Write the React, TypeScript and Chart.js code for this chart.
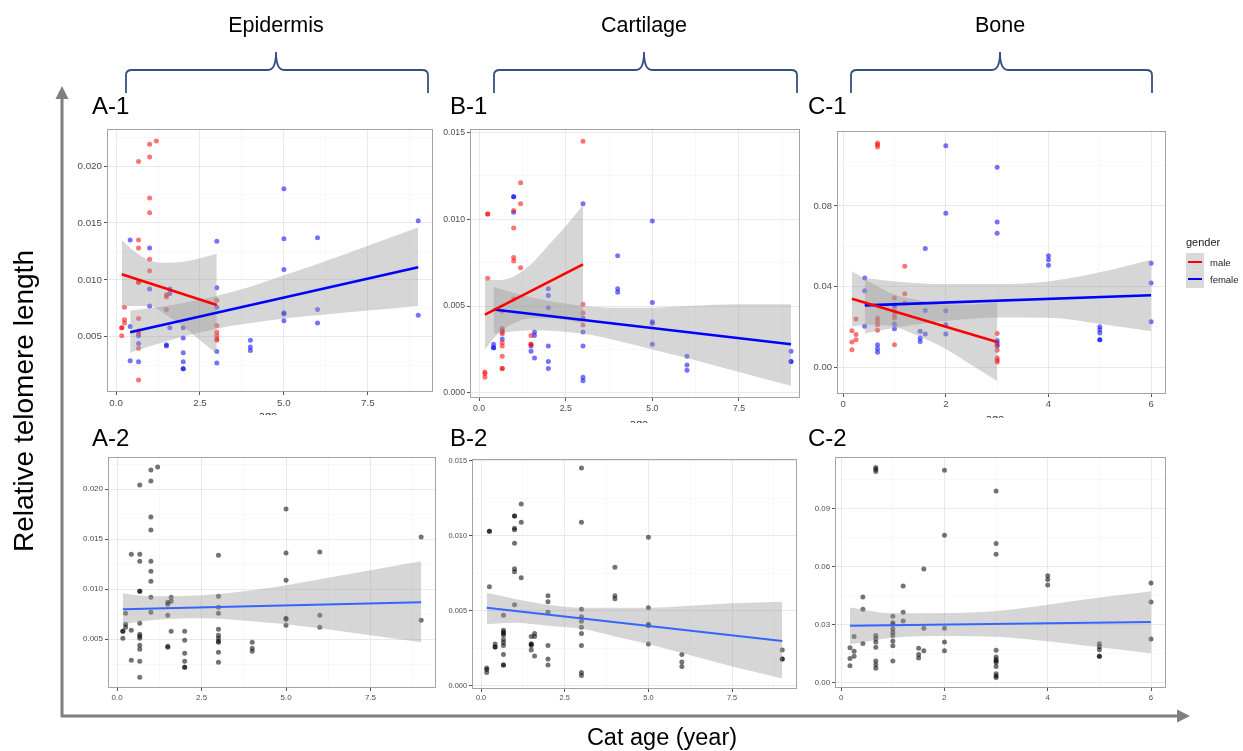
import React, { useEffect, useRef } from "react";
import { Chart, registerables } from "chart.js";
Chart.register(...registerables);

type Pt = [number, number];

// ================= DATA (age in years, relative telomere length) =================
// Epidermis
const epidermisMale: Pt[] = [
  [0.17, 0.0058], [0.17, 0.0058], [0.17, 0.0051], [0.25, 0.0076], [0.25, 0.0065], [0.25, 0.0062],
  [0.67, 0.0204], [0.67, 0.0135], [0.67, 0.0128], [0.67, 0.0098], [0.67, 0.0098], [0.67, 0.0066],
  [0.67, 0.0055], [0.67, 0.0053], [0.67, 0.004], [0.67, 0.0012],
  [1, 0.0219], [1, 0.0208], [1, 0.0172], [1, 0.0159], [1, 0.0118], [1, 0.0108],
  [1.2, 0.0222], [1.5, 0.0087], [1.5, 0.0085], [1.5, 0.0074],
  [3, 0.0082], [3, 0.006], [3, 0.0054], [3, 0.0051], [3, 0.0048], [3, 0.0047],
];
const epidermisFemale: Pt[] = [
  [0.42, 0.0135], [0.42, 0.0059], [0.42, 0.0029], [0.67, 0.0051], [0.67, 0.0044], [0.67, 0.0028],
  [1, 0.0128], [1, 0.0092], [1, 0.0077], [1.5, 0.0043], [1.5, 0.0042],
  [1.6, 0.0092], [1.6, 0.0088], [1.6, 0.0058],
  [2, 0.0058], [2, 0.0049], [2, 0.0036], [2, 0.0028], [2, 0.0022], [2, 0.0022],
  [3, 0.0134], [3, 0.0093], [3, 0.0076], [3, 0.0037], [3, 0.0027],
  [4, 0.0047], [4, 0.0041], [4, 0.0038],
  [5, 0.018], [5, 0.0136], [5, 0.0109], [5, 0.0071], [5, 0.007], [5, 0.0064],
  [6, 0.0137], [6, 0.0074], [6, 0.0062], [9, 0.0152], [9, 0.0069],
];
// Cartilage
const cartilageMale: Pt[] = [
  [0.17, 0.0012], [0.17, 0.0011], [0.17, 0.0009], [0.25, 0.0103], [0.25, 0.0103], [0.25, 0.0066],
  [0.67, 0.0047], [0.67, 0.0037], [0.67, 0.0035], [0.67, 0.0034], [0.67, 0.0029], [0.67, 0.0027],
  [0.67, 0.0021], [0.67, 0.0014], [0.67, 0.0014],
  [1, 0.0105], [1, 0.0095], [1, 0.0078], [1, 0.0076], [1, 0.0054],
  [1.2, 0.0121], [1.2, 0.0109], [1.2, 0.0072],
  [1.5, 0.0033], [1.5, 0.0028], [1.5, 0.0028],
  [3, 0.0145], [3, 0.0051], [3, 0.0046], [3, 0.0039],
];
const cartilageFemale: Pt[] = [
  [0.42, 0.0028], [0.42, 0.0026], [0.42, 0.0026], [0.67, 0.0036], [0.67, 0.0031],
  [1, 0.0113], [1, 0.0113], [1, 0.0104], [1.5, 0.0027], [1.5, 0.0024],
  [1.6, 0.0035], [1.6, 0.0033], [1.6, 0.002],
  [2, 0.006], [2, 0.0056], [2, 0.0049], [2, 0.0027], [2, 0.0018], [2, 0.0014],
  [3, 0.0109], [3, 0.0043], [3, 0.0035], [3, 0.0027], [3, 0.0009], [3, 0.0007],
  [4, 0.0079], [4, 0.006], [4, 0.0058],
  [5, 0.0099], [5, 0.0052], [5, 0.0041], [5, 0.004], [5, 0.0028],
  [6, 0.0021], [6, 0.0016], [6, 0.0013], [9, 0.0024], [9, 0.0018], [9, 0.0018],
];
// Bone
const boneMale: Pt[] = [
  [0.17, 0.018], [0.17, 0.0124], [0.17, 0.0086], [0.25, 0.0238], [0.25, 0.0161], [0.25, 0.0136],
  [0.67, 0.1113], [0.67, 0.1104], [0.67, 0.1093], [0.67, 0.0243], [0.67, 0.0227], [0.67, 0.021], [0.67, 0.0182],
  [1, 0.0343], [1, 0.0278], [1, 0.026], [1, 0.0243], [1, 0.0111],
  [1.2, 0.05], [1.2, 0.0364], [1.2, 0.0318],
  [3, 0.0166], [3, 0.0111], [3, 0.0083], [3, 0.0045], [3, 0.0033], [3, 0.0025],
];
const boneFemale: Pt[] = [
  [0.42, 0.0442], [0.42, 0.0379], [0.42, 0.0202], [0.67, 0.0111], [0.67, 0.0091], [0.67, 0.0073],
  [1, 0.0309], [1, 0.0301], [1, 0.0214], [1, 0.019],
  [1.5, 0.0177], [1.5, 0.0144], [1.5, 0.0127], [1.6, 0.0588], [1.6, 0.0281], [1.6, 0.0164],
  [2, 0.1099], [2, 0.0763], [2, 0.028], [2, 0.021], [2, 0.0164],
  [3, 0.0992], [3, 0.072], [3, 0.0664], [3, 0.0132], [3, 0.0119], [3, 0.0103],
  [4, 0.0553], [4, 0.0533], [4, 0.0505],
  [5, 0.02], [5, 0.0185], [5, 0.0169], [5, 0.0136], [5, 0.0136],
  [6, 0.0515], [6, 0.0417], [6, 0.0225],
];

// ---- fitted lines (end points) and confidence bands ----
const epiMaleFitAge = [0.17, 3];
const epiMaleFit = [0.0105, 0.0078];
const epiMaleBandAge = [0.17, 0.5, 1, 1.5, 2, 2.5, 3];
const epiMaleHi = [0.0135, 0.0126, 0.0117, 0.0115, 0.0116, 0.0119, 0.0123];
const epiMaleLo = [0.0076, 0.0077, 0.0077, 0.0069, 0.0059, 0.0047, 0.0035];
const epiFemaleFitAge = [0.42, 9];
const epiFemaleFit = [0.0054, 0.0111];
const epiFemaleBandAge = [0.42, 1.5, 3, 4, 5, 6, 7.5, 9];
const epiFemaleHi = [0.0073, 0.0077, 0.0086, 0.0094, 0.0104, 0.0114, 0.013, 0.0146];
const epiFemaleLo = [0.0036, 0.0046, 0.0057, 0.0062, 0.0066, 0.0069, 0.0073, 0.0077];
const epiAllFitAge = [0.17, 9];
const epiAllFit = [0.008, 0.0087];
const epiAllBandAge = [0.17, 1, 2.5, 4, 5, 6, 7.5, 9];
const epiAllHi = [0.0096, 0.0093, 0.0094, 0.0099, 0.0104, 0.011, 0.0119, 0.0128];
const epiAllLo = [0.0065, 0.0069, 0.0071, 0.0068, 0.0065, 0.0061, 0.0054, 0.0047];

const carMaleFitAge = [0.17, 3];
const carMaleFit = [0.0045, 0.0074];
const carMaleBandAge = [0.17, 0.6, 1, 1.5, 2, 2.5, 3];
const carMaleHi = [0.0065, 0.0065, 0.0067, 0.0074, 0.0085, 0.0096, 0.0108];
const carMaleLo = [0.0025, 0.0035, 0.004, 0.0043, 0.0043, 0.0042, 0.004];
const carFemaleFitAge = [0.42, 9];
const carFemaleFit = [0.0048, 0.0028];
const carFemaleBandAge = [0.42, 1.5, 3, 4, 5, 6, 7.5, 9];
const carFemaleHi = [0.0061, 0.0055, 0.005, 0.0049, 0.0049, 0.005, 0.0051, 0.0051];
const carFemaleLo = [0.0034, 0.0036, 0.0034, 0.003, 0.0025, 0.002, 0.0012, 0.0004];
const carAllFitAge = [0.17, 9];
const carAllFit = [0.0052, 0.003];
const carAllBandAge = [0.17, 1, 2, 3, 4, 5, 6, 7.5, 9];
const carAllHi = [0.0062, 0.0058, 0.0054, 0.0052, 0.0052, 0.0052, 0.0053, 0.0055, 0.0056];
const carAllLo = [0.0041, 0.0042, 0.004, 0.0038, 0.0033, 0.0028, 0.0022, 0.0013, 0.0005];

const boneMaleFitAge = [0.17, 3];
const boneMaleFit = [0.0339, 0.0124];
const boneMaleBandAge = [0.17, 0.6, 1, 1.5, 2, 2.5, 3];
const boneMaleHi = [0.0475, 0.041, 0.036, 0.033, 0.031, 0.031, 0.032];
const boneMaleLo = [0.0203, 0.021, 0.02, 0.015, 0.009, 0.001, -0.007];
const boneFemaleFitAge = [0.42, 6];
const boneFemaleFit = [0.0306, 0.0356];
const boneFemaleBandAge = [0.42, 1, 2, 3, 4, 5, 6];
const boneFemaleHi = [0.0442, 0.0425, 0.0412, 0.0412, 0.0425, 0.047, 0.0533];
const boneFemaleLo = [0.0166, 0.0195, 0.0228, 0.0246, 0.0245, 0.0215, 0.0177];
const boneAllFitAge = [0.17, 6];
const boneAllFit = [0.0294, 0.0313];
const boneAllBandAge = [0.17, 1, 2, 3, 4, 5, 6];
const boneAllHi = [0.0388, 0.0358, 0.0359, 0.037, 0.0403, 0.044, 0.0473];
const boneAllLo = [0.0198, 0.0232, 0.0241, 0.0236, 0.0213, 0.0182, 0.0151];

// ================= STYLE / LAYOUT =================
const RED_PT = "rgba(255,0,0,0.55)";
const BLUE_PT = "rgba(0,0,255,0.55)";
const GREY_PT = "rgba(0,0,0,0.55)";
const BAND = "rgba(153,153,153,0.4)";
const FONT = "'Liberation Sans', Arial, Helvetica, sans-serif";
const YW = 38, XH = 18, PT = 8, PR = 8;

interface Group { pts: Pt[]; color: string }
interface Smooth { age: number[]; fit: number[]; bandAge: number[]; hi: number[]; lo: number[]; color: string; width: number }
interface PanelCfg {
  l: number; t: number; r: number; b: number; fs: number;
  xMin: number; xMax: number; yMin: number; yMax: number;
  xStep: number; xMajor: number; xDec: number;
  yStep: number; yMajor: number; yDec: number;
  groups: Group[]; smooths: Smooth[];
}

const sm = (age: number[], fit: number[], bandAge: number[], hi: number[], lo: number[], color: string, width: number): Smooth =>
  ({ age, fit, bandAge, hi, lo, color, width });

const panels: PanelCfg[] = [
  { l: 107, t: 129, r: 433, b: 392, fs: 9.8, xMin: -0.27, xMax: 9.44, yMin: 0.00015, yMax: 0.02325,
    xStep: 1.25, xMajor: 2.5, xDec: 1, yStep: 0.0025, yMajor: 0.005, yDec: 3,
    groups: [{ pts: epidermisMale, color: RED_PT }, { pts: epidermisFemale, color: BLUE_PT }],
    smooths: [sm(epiMaleFitAge, epiMaleFit, epiMaleBandAge, epiMaleHi, epiMaleLo, "#ff0000", 2.6),
              sm(epiFemaleFitAge, epiFemaleFit, epiFemaleBandAge, epiFemaleHi, epiFemaleLo, "#0000ff", 2.6)] },
  { l: 470, t: 129, r: 800, b: 398, fs: 8.7, xMin: -0.26, xMax: 9.26, yMin: -0.0003, yMax: 0.0152,
    xStep: 1.25, xMajor: 2.5, xDec: 1, yStep: 0.0025, yMajor: 0.005, yDec: 3,
    groups: [{ pts: cartilageMale, color: RED_PT }, { pts: cartilageFemale, color: BLUE_PT }],
    smooths: [sm(carMaleFitAge, carMaleFit, carMaleBandAge, carMaleHi, carMaleLo, "#ff0000", 2.6),
              sm(carFemaleFitAge, carFemaleFit, carFemaleBandAge, carFemaleHi, carFemaleLo, "#0000ff", 2.6)] },
  { l: 837, t: 131, r: 1166, b: 394, fs: 9.5, xMin: -0.12, xMax: 6.29, yMin: -0.0134, yMax: 0.1172,
    xStep: 1, xMajor: 2, xDec: 0, yStep: 0.02, yMajor: 0.04, yDec: 2,
    groups: [{ pts: boneMale, color: RED_PT }, { pts: boneFemale, color: BLUE_PT }],
    smooths: [sm(boneMaleFitAge, boneMaleFit, boneMaleBandAge, boneMaleHi, boneMaleLo, "#ff0000", 2.6),
              sm(boneFemaleFitAge, boneFemaleFit, boneFemaleBandAge, boneFemaleHi, boneFemaleLo, "#0000ff", 2.6)] },
  { l: 108, t: 457, r: 436, b: 688, fs: 8, xMin: -0.27, xMax: 9.44, yMin: 0.00013, yMax: 0.0232,
    xStep: 1.25, xMajor: 2.5, xDec: 1, yStep: 0.0025, yMajor: 0.005, yDec: 3,
    groups: [{ pts: epidermisMale.concat(epidermisFemale), color: GREY_PT }],
    smooths: [sm(epiAllFitAge, epiAllFit, epiAllBandAge, epiAllHi, epiAllLo, "#3366ff", 2)] },
  { l: 472, t: 459, r: 797, b: 689, fs: 7.4, xMin: -0.27, xMax: 9.44, yMin: -0.0002, yMax: 0.0151,
    xStep: 1.25, xMajor: 2.5, xDec: 1, yStep: 0.0025, yMajor: 0.005, yDec: 3,
    groups: [{ pts: cartilageMale.concat(cartilageFemale), color: GREY_PT }],
    smooths: [sm(carAllFitAge, carAllFit, carAllBandAge, carAllHi, carAllLo, "#3366ff", 2)] },
  { l: 835, t: 457, r: 1166, b: 688, fs: 7.8, xMin: -0.12, xMax: 6.29, yMin: -0.0029, yMax: 0.1168,
    xStep: 1, xMajor: 2, xDec: 0, yStep: 0.015, yMajor: 0.03, yDec: 2,
    groups: [{ pts: boneMale.concat(boneFemale), color: GREY_PT }],
    smooths: [sm(boneAllFitAge, boneAllFit, boneAllBandAge, boneAllHi, boneAllLo, "#3366ff", 2)] },
];

const isMajor = (v: number, major: number) => Math.abs(v / major - Math.round(v / major)) < 1e-6;

const borderPlugin = {
  id: "panelBorder",
  afterDraw(chart: any) {
    const { ctx, chartArea } = chart;
    const { left, top, right, bottom } = chartArea;
    ctx.save();
    ctx.strokeStyle = "#a3a3a3";
    ctx.lineWidth = 1;
    ctx.strokeRect(left + 0.5, top + 0.5, right - left - 1, bottom - top - 1);
    ctx.restore();
  },
};

function axis(step: number, major: number, dec: number, min: number, max: number, isY: boolean, fs: number) {
  return {
    type: "linear",
    min, max,
    afterFit: (s: any) => { if (isY) s.width = YW; else s.height = XH; },
    border: { display: false },
    ticks: {
      stepSize: step, includeBounds: false, autoSkip: false, maxRotation: 0,
      color: "#4d4d4d", padding: 2,
      font: { size: fs, family: FONT },
      callback: (v: any) => (isMajor(Number(v), major) ? Number(v).toFixed(dec) : ""),
    },
    grid: {
      drawTicks: true, tickLength: 3,
      color: (c: any) => (c.tick && isMajor(c.tick.value, major) ? "#e9e9e9" : "#f3f3f3"),
      lineWidth: (c: any) => (c.tick && isMajor(c.tick.value, major) ? 1 : 0.6),
      tickColor: (c: any) => (c.tick && isMajor(c.tick.value, major) ? "#555555" : "rgba(0,0,0,0)"),
    },
  };
}

function PanelChart({ cfg }: { cfg: PanelCfg }) {
  const ref = useRef<HTMLCanvasElement>(null);
  const W = Math.round(cfg.r - cfg.l) + YW + PR;
  const H = Math.round(cfg.b - cfg.t) + PT + XH;
  useEffect(() => {
    const datasets: any[] = [];
    cfg.groups.forEach((g) =>
      datasets.push({
        type: "scatter",
        data: g.pts.map(([x, y]) => ({ x, y })),
        pointBackgroundColor: g.color, backgroundColor: g.color,
        pointBorderWidth: 0, pointBorderColor: "rgba(0,0,0,0)",
        pointRadius: 2.5, order: 3,
      })
    );
    cfg.smooths.forEach((s) => {
      datasets.push({
        type: "line", data: s.bandAge.map((x, i) => ({ x, y: s.hi[i] })),
        fill: "+1", backgroundColor: BAND, borderColor: "rgba(0,0,0,0)", borderWidth: 0,
        pointRadius: 0, cubicInterpolationMode: "monotone", order: 2,
      });
      datasets.push({
        type: "line", data: s.bandAge.map((x, i) => ({ x, y: s.lo[i] })),
        fill: false, borderColor: "rgba(0,0,0,0)", borderWidth: 0,
        pointRadius: 0, cubicInterpolationMode: "monotone", order: 2,
      });
    });
    cfg.smooths.forEach((s) =>
      datasets.push({
        type: "line", data: s.age.map((x, i) => ({ x, y: s.fit[i] })),
        borderColor: s.color, borderWidth: s.width, pointRadius: 0, fill: false, order: 1,
      })
    );
    const chart = new Chart(ref.current as HTMLCanvasElement, {
      type: "scatter",
      data: { datasets },
      options: {
        animation: false, responsive: false, events: [],
        layout: { padding: { top: PT, right: PR, left: 0, bottom: 0 } },
        plugins: { legend: { display: false }, tooltip: { enabled: false } },
        scales: {
          x: axis(cfg.xStep, cfg.xMajor, cfg.xDec, cfg.xMin, cfg.xMax, false, cfg.fs),
          y: axis(cfg.yStep, cfg.yMajor, cfg.yDec, cfg.yMin, cfg.yMax, true, cfg.fs),
        },
      } as any,
      plugins: [borderPlugin],
    });
    return () => chart.destroy();
  }, []);
  return (
    <canvas
      ref={ref}
      width={W}
      height={H}
      style={{ position: "absolute", left: Math.round(cfg.l) - YW, top: Math.round(cfg.t) - PT, width: W, height: H }}
    />
  );
}

const BRACE = "#34507f";
const brace = (x1: number, xc: number, x2: number) =>
  `M${x1},93 L${x1},75 Q${x1},70 ${x1 + 6},70 L${xc - 8},70 Q${xc},70 ${xc},52 Q${xc},70 ${xc + 8},70 L${x2 - 6},70 Q${x2},70 ${x2},75 L${x2},93`;

export default function App() {
  return (
    <div style={{ position: "absolute", left: 0, top: 0, width: 1243, height: 751, background: "#fff", overflow: "hidden" }}>
      {panels.map((p, i) => <PanelChart key={i} cfg={p} />)}
      <svg width={1243} height={751} style={{ position: "absolute", left: 0, top: 0, pointerEvents: "none" }}>
        <defs>
          <clipPath id="cA"><rect x={240} y={409} width={60} height={6} /></clipPath>
          <clipPath id="cB"><rect x={610} y={417} width={60} height={6} /></clipPath>
          <clipPath id="cC"><rect x={965} y={412} width={60} height={6} /></clipPath>
        </defs>
        <g fill="none" stroke={BRACE} strokeWidth={1.8}>
          <path d={brace(126, 276, 428)} />
          <path d={brace(494, 644, 797)} />
          <path d={brace(851, 1000, 1152)} />
        </g>
        <g stroke="#7f7f7f" strokeWidth={3}>
          <line x1={62} y1={717} x2={62} y2={97} />
          <line x1={61} y1={716} x2={1178} y2={716} />
        </g>
        <polygon points="62,86 55.5,99 68.5,99" fill="#7f7f7f" />
        <polygon points="1190,716 1177,709.5 1177,722.5" fill="#7f7f7f" />
        <g fontFamily={FONT} fill="#000">
          <text x={276} y={32} fontSize={21.5} textAnchor="middle">Epidermis</text>
          <text x={644} y={32} fontSize={21.5} textAnchor="middle">Cartilage</text>
          <text x={1000} y={32} fontSize={21.5} textAnchor="middle">Bone</text>
          <text x={92} y={114} fontSize={24}>A-1</text>
          <text x={450} y={114} fontSize={24}>B-1</text>
          <text x={808} y={114} fontSize={24}>C-1</text>
          <text x={92} y={446} fontSize={24}>A-2</text>
          <text x={450} y={446} fontSize={24}>B-2</text>
          <text x={808} y={446} fontSize={24}>C-2</text>
          <text x={662} y={745} fontSize={23.5} textAnchor="middle">Cat age (year)</text>
          <text transform="translate(33,401) rotate(-90)" fontSize={28} textAnchor="middle">Relative telomere length</text>
        </g>
        <g fontFamily={FONT} fill="#333" fontSize={11} textAnchor="middle">
          <text x={268} y={419} clipPath="url(#cA)">age</text>
          <text x={639} y={427} clipPath="url(#cB)">age</text>
          <text x={995} y={422} clipPath="url(#cC)">age</text>
        </g>
        <g fontFamily={FONT}>
          <text x={1186} y={246} fontSize={11} fill="#1a1a1a">gender</text>
          <rect x={1186} y={253} width={18} height={17.5} fill="#d9d9d9" />
          <rect x={1186} y={270.5} width={18} height={17.5} fill="#d9d9d9" />
          <line x1={1188} y1={262} x2={1202} y2={262} stroke="#ff0000" strokeWidth={2} />
          <line x1={1188} y1={279} x2={1202} y2={279} stroke="#0000ff" strokeWidth={2} />
          <text x={1210} y={265.5} fontSize={9.5} fill="#1a1a1a">male</text>
          <text x={1210} y={282.5} fontSize={9.5} fill="#1a1a1a">female</text>
        </g>
      </svg>
    </div>
  );
}
